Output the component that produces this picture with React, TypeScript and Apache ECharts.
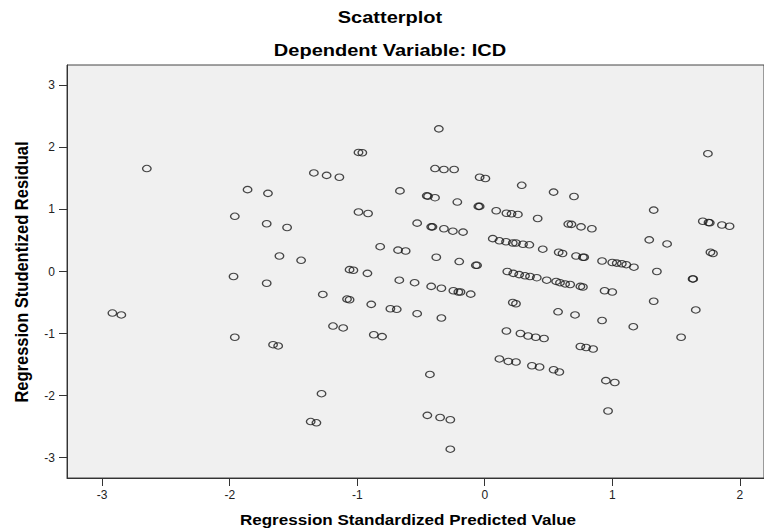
import React, { useEffect, useRef } from "react";
import * as echarts from "echarts";

// Regression Standardized Predicted Value (x) and Studentized Residual (y)
const predicted: number[] = [
  -2.65, -1.86, -1.70, -1.96, -1.71, -1.55, -1.61, -1.44, -1.97, -1.71, -2.92, -2.85, -1.96, -1.66, -1.62,
  -0.36, -0.99, -0.96, -1.34, -1.24, -1.14, -0.39, -0.32, -0.24, -0.04, 0.005, 0.29, -0.665, -0.455, -0.445,
  -0.39, -0.215, -0.05, -0.04, 0.09, 0.17, 0.21, 0.26, -0.99, -0.915, -0.53, -0.42, -0.41, -0.32, -0.25,
  -0.17, 0.063, 0.115, 0.167, 0.22, 0.245, 0.30, 0.35, -0.82, -0.68, -0.62, -0.38, -0.20, -0.07, -0.06,
  -1.06, -1.03, -0.92, 0.177, 0.224, 0.27, 0.316, 0.355, 0.408, 0.486, 0.56, 0.59, 0.63, 0.67, 0.75,
  0.77, 0.94, 1.0, -0.67, -0.55, -0.42, -0.34, -0.246, -0.207, -0.19, -0.11, -1.27, -1.08, -1.06, -0.89,
  -0.74, -0.69, -0.53, -0.34, 0.22, 0.245, -1.19, -1.11, -0.87, -0.805, 0.17, 0.28, 0.34, 0.40, 0.465,
  0.115, 0.185, 0.245, 0.37, 0.43, 0.54, 0.585, -0.43, -1.28, -1.365, -1.32, -0.45, -0.35, -0.27, -0.27,
  1.75, 0.54, 0.70, 1.325, 0.415, 0.655, 0.68, 0.755, 0.84, 1.71, 1.755, 1.765, 1.86, 1.92, 1.29,
  1.43, 0.455, 0.58, 0.61, 0.716, 0.77, 0.78, 0.92, 1.0, 1.035, 1.075, 1.11, 1.17, 1.35, 1.77,
  1.79, 1.63, 1.635, 1.325, 1.655, 0.575, 0.708, 0.92, 1.165, 1.54, 0.75, 0.795, 0.85, 0.95, 1.02, 0.967,
];

const residual: number[] = [
  1.66, 1.32, 1.26, 0.89, 0.77, 0.71, 0.25, 0.18, -0.08, -0.19, -0.67, -0.70, -1.06, -1.18, -1.20,
  2.30, 1.92, 1.915, 1.59, 1.55, 1.52, 1.66, 1.645, 1.645, 1.52, 1.50, 1.39, 1.30, 1.22, 1.215,
  1.19, 1.12, 1.05, 1.05, 0.98, 0.94, 0.93, 0.92, 0.96, 0.935, 0.78, 0.72, 0.72, 0.69, 0.65,
  0.635, 0.53, 0.495, 0.48, 0.46, 0.46, 0.44, 0.43, 0.40, 0.345, 0.33, 0.23, 0.16, 0.10, 0.10,
  0.03, 0.02, -0.03, 0.0, -0.03, -0.05, -0.07, -0.08, -0.10, -0.14, -0.16, -0.18, -0.20, -0.21, -0.24,
  -0.25, -0.31, -0.33, -0.14, -0.18, -0.24, -0.27, -0.31, -0.33, -0.33, -0.365, -0.37, -0.445, -0.455, -0.53,
  -0.60, -0.61, -0.68, -0.75, -0.50, -0.52, -0.88, -0.91, -1.02, -1.05, -0.96, -1.0, -1.04, -1.06, -1.08,
  -1.41, -1.45, -1.46, -1.52, -1.54, -1.585, -1.62, -1.66, -1.97, -2.42, -2.44, -2.32, -2.355, -2.39, -2.865,
  1.90, 1.28, 1.21, 0.99, 0.855, 0.765, 0.76, 0.72, 0.69, 0.81, 0.79, 0.785, 0.75, 0.73, 0.51,
  0.445, 0.36, 0.31, 0.29, 0.25, 0.23, 0.23, 0.17, 0.145, 0.135, 0.125, 0.11, 0.07, 0.0, 0.31,
  0.29, -0.12, -0.12, -0.48, -0.62, -0.65, -0.70, -0.79, -0.89, -1.06, -1.21, -1.225, -1.25, -1.76, -1.79, -2.25,
];

const xTicks: number[] = [-3, -2, -1, 0, 1, 2];
const yTicks: number[] = [-3, -2, -1, 0, 1, 2, 3];

const chartTitle = "Scatterplot";
const chartSubtitle = "Dependent Variable: ICD";
const xName = "Regression Standardized Predicted Value";
const yName = "Regression Studentized Residual";

const FONT = '"Liberation Sans", Arial, sans-serif';

export default function App() {
  const ref = useRef<HTMLDivElement>(null);

  useEffect(() => {
    if (!ref.current) return;
    const chart = echarts.init(ref.current, null, { renderer: "svg" });
    const points = predicted.map((x, i) => [x, residual[i]]);

    const txt = (
      text: string,
      x: number,
      y: number,
      size: number,
      scaleX: number,
      scaleY = 1,
      rotation = 0
    ) => ({
      type: "text",
      x,
      y,
      rotation,
      scaleX,
      scaleY,
      silent: true,
      style: {
        text,
        x: 0,
        y: 0,
        font: `bold ${size}px ${FONT}`,
        fill: "#000",
        align: "center",
        verticalAlign: "middle",
        textAlign: "center",
        textVerticalAlign: "middle",
      },
    });

    chart.setOption({
      animation: false,
      backgroundColor: "#fff",
      grid: {
        left: 67,
        top: 65,
        width: 697,
        height: 413,
        show: true,
        backgroundColor: "#f0f0f0",
        borderColor: "#444",
        borderWidth: 1,
      },
      xAxis: {
        type: "value",
        min: -3.276,
        max: 2.19,
        splitLine: { show: false },
        axisLine: { show: true, onZero: false, lineStyle: { color: "#333", width: 1 } },
        axisTick: { show: true, length: 8, customValues: xTicks, lineStyle: { color: "#333" } },
        axisLabel: {
          customValues: xTicks,
          margin: 11,
          fontSize: 12,
          color: "#222",
          fontFamily: FONT,
        },
      },
      yAxis: {
        type: "value",
        min: -3.33,
        max: 3.33,
        splitLine: { show: false },
        axisLine: { show: true, onZero: false, lineStyle: { color: "#333", width: 1 } },
        axisTick: { show: true, length: 8, customValues: yTicks, lineStyle: { color: "#333" } },
        axisLabel: {
          customValues: yTicks,
          margin: 12,
          fontSize: 12,
          color: "#222",
          fontFamily: FONT,
        },
      },
      graphic: [
        txt(chartTitle, 390, 18, 16, 1.25),
        txt(chartSubtitle, 390, 51, 16, 1.25),
        txt(xName, 408, 519, 15.5, 1.1),
        txt(yName, 22, 272, 16.5, 1, 1.15, Math.PI / 2),
      ],
      series: [
        {
          type: "scatter",
          data: points,
          symbol: "path://M0,1A1,1,0,1,1,2,1A1,1,0,1,1,0,1Z",
          symbolSize: [8.5, 6.5],
          silent: true,
          itemStyle: {
            color: "rgba(0,0,0,0)",
            borderColor: "#1a1a1a",
            borderWidth: 1.2,
          },
          emphasis: { disabled: true },
        },
      ],
    });

    return () => chart.dispose();
  }, []);

  return (
    <div
      ref={ref}
      style={{ position: "fixed", left: 0, top: 0, width: 764, height: 529, background: "#fff" }}
    />
  );
}
